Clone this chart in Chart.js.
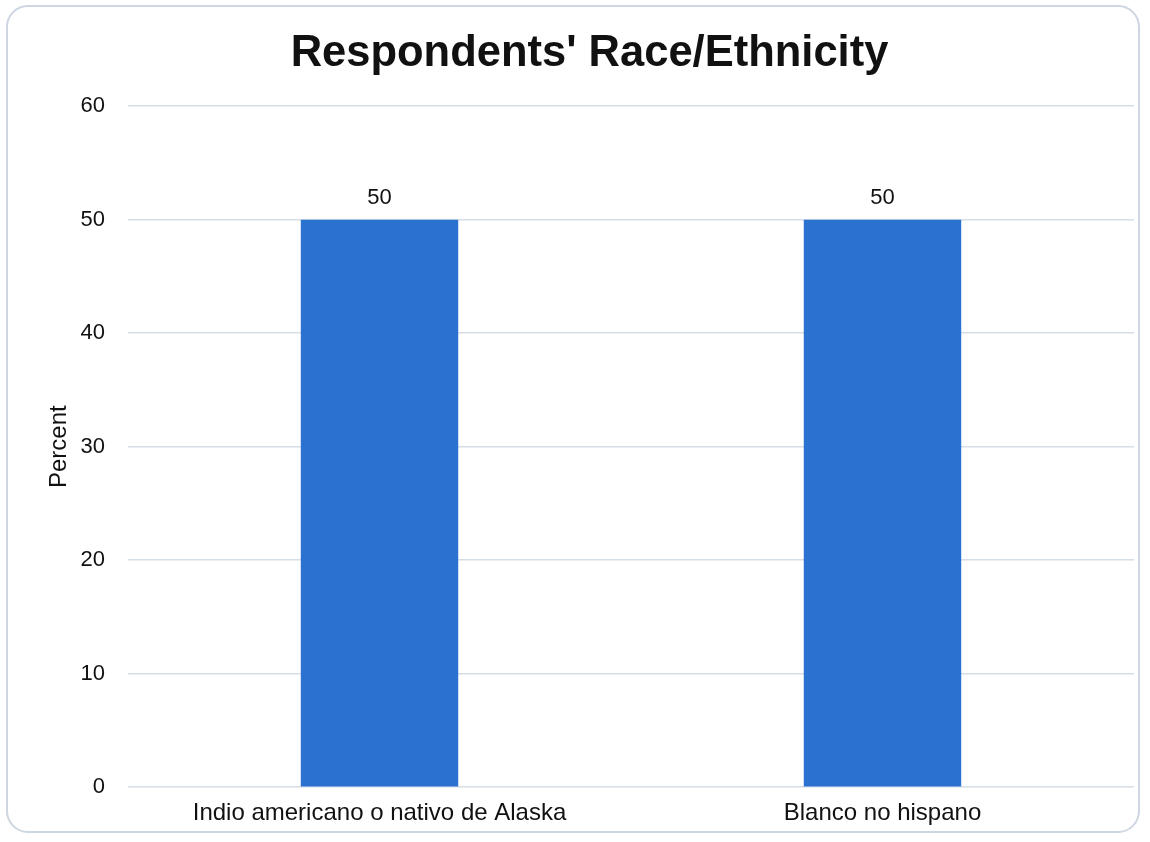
<!DOCTYPE html>
<html>
<head>
<meta charset="utf-8">
<script src="https://cdn.jsdelivr.net/npm/chart.js@4"></script>
<style>
  html, body { margin: 0; padding: 0; background: #fff; }
  #frame {
    position: absolute; left: 6px; top: 5px; width: 1134px; height: 828px;
    border: 2px solid #cdd6e1; border-radius: 22px; box-sizing: border-box;
  }
  #wrap { position: absolute; left: 0; top: 0; width: 1150px; height: 842px; }
</style>
</head>
<body>
<div id="frame"></div>
<div id="wrap"><canvas id="chart"></canvas></div>
<script>
// --- DATA ---
const categories = ["Indio americano o nativo de Alaska", "Blanco no hispano"];
const percents = [50, 50];
const yTicks = [0, 10, 20, 30, 40, 50, 60];

const fontFamily = "'Liberation Sans', Arial, sans-serif";

// value labels above each bar
const barLabels = {
    id: "barLabels",
    afterDatasetsDraw(chart) {
        const ctx = chart.ctx;
        const meta = chart.getDatasetMeta(0);
        ctx.save();
        ctx.font = "22px " + fontFamily;
        ctx.fillStyle = "#111";
        ctx.textAlign = "center";
        ctx.textBaseline = "alphabetic";
        meta.data.forEach((bar, i) => {
            ctx.fillText(percents[i], bar.x, bar.y - 16);
        });
        ctx.restore();
    }
};

new Chart(document.getElementById("chart"), {
    type: "bar",
    data: {
        labels: categories,
        datasets: [{
            data: percents,
            backgroundColor: "#2a71d0",
            categoryPercentage: 1,
            barPercentage: 0.313
        }]
    },
    options: {
        responsive: true,
        maintainAspectRatio: false,
        animation: false,
        layout: { padding: { left: 45, right: 16, top: 18, bottom: 2 } },
        plugins: {
            legend: { display: false },
            tooltip: { enabled: false },
            title: {
                display: true,
                text: "Respondents' Race/Ethnicity",
                color: "#111",
                font: { family: fontFamily, size: 43.5, weight: "bold" },
                padding: { top: 10, bottom: 26 }
            }
        },
        scales: {
            x: {
                grid: { display: false, drawTicks: false },
                border: { display: false },
                ticks: {
                    color: "#111",
                    padding: 12,
                    font: { family: fontFamily, size: 24 }
                }
            },
            y: {
                min: 0,
                max: 60,
                afterBuildTicks: axis => { axis.ticks = yTicks.map(v => ({ value: v })); },
                afterFit: axis => { axis.width = 83; },
                grid: { color: "#d6dee8", lineWidth: 1.5, drawTicks: false },
                border: { display: false },
                title: {
                    display: true,
                    text: "Percent",
                    color: "#111",
                    font: { family: fontFamily, size: 24 },
                    padding: { top: 0, bottom: 0 }
                },
                ticks: {
                    color: "#111",
                    padding: 23,
                    font: { family: fontFamily, size: 22 }
                }
            }
        }
    },
    plugins: [barLabels]
});
</script>
</body>
</html>
